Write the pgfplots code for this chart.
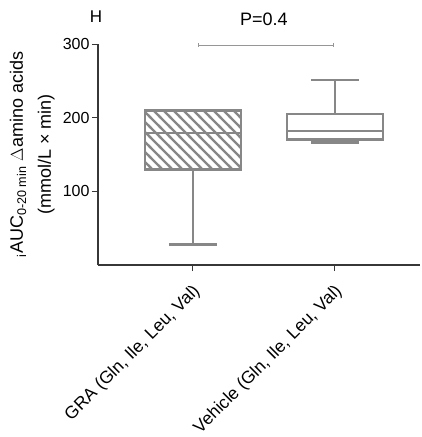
\documentclass[border=0pt]{standalone}
\usepackage{fontspec}
\setmainfont{Liberation Sans}
\usepackage{pgfplots}
\pgfplotsset{compat=1.18}
\usetikzlibrary{patterns}
\definecolor{boxgray}{RGB}{135,135,135}
\definecolor{axisgray}{RGB}{55,55,55}
\definecolor{brgray}{RGB}{150,150,150}
% thick "\" hatching, like the reference
\pgfdeclarepatternformonly{hatchnw}{\pgfqpoint{-2pt}{-2pt}}{\pgfqpoint{12pt}{12pt}}{\pgfqpoint{10pt}{10pt}}{%
  \pgfsetlinewidth{2.4pt}
  \pgfpathmoveto{\pgfqpoint{-2pt}{12pt}}
  \pgfpathlineto{\pgfqpoint{12pt}{-2pt}}
  \pgfusepath{stroke}}
\pgfplotsset{bx/.style={boxgray, line width=2.6pt, mark=none}}
\begin{document}
\begin{tikzpicture}[font=\fontsize{18}{21}\selectfont]
\path[use as bounding box] (-98pt,-172pt) rectangle (323pt,265pt);
\begin{axis}[
    scale only axis,
    width=322pt, height=221pt,
    xmin=0.331, xmax=2.6,
    ymin=0, ymax=300,
    clip=false,
    axis x line*=bottom,
    axis y line*=left,
    axis line style={axisgray, line width=1.2pt},
    xtick={1,2},
    xticklabels={{GRA (Gln, Ile, Leu, Val)},{Vehicle (Gln, Ile, Leu, Val)}},
    ytick={100,200,300},
    tick align=outside,
    major tick length=6pt,
    tick style={axisgray, line width=1pt},
    x tick label style={rotate=45, anchor=north east, xshift=-6pt, yshift=-4pt,
        font=\fontsize{17.5}{21}\selectfont},
    y tick label style={font=\fontsize{16}{19}\selectfont, xshift=1pt},
    /pgf/number format/assume math mode=true,
    ylabel={\textsubscript{i}AUC\textsubscript{0-20 min} \(\Delta\)amino acids\\[7pt](mmol/L × min)},
    ylabel style={at={(axis description cs:-0.204,0.5)}, anchor=center, align=center},
]
% GRA: min 28, q1 130, median 179, q3 210 (max = q3)
\addplot[bx] coordinates {(1,28) (1,130)};
\addplot[bx] coordinates {(0.831,28) (1.169,28)};
\addplot[bx, pattern=hatchnw, pattern color=boxgray]
    coordinates {(0.662,130) (1.338,130) (1.338,210) (0.662,210)} -- cycle;
\addplot[bx] coordinates {(0.662,179) (1.338,179)};
% Vehicle: min 166, q1 170, median 182, q3 205, max 251
\addplot[bx] coordinates {(2,166) (2,170)};
\addplot[bx] coordinates {(1.831,166) (2.169,166)};
\addplot[bx] coordinates {(2,205) (2,251)};
\addplot[bx] coordinates {(1.831,251) (2.169,251)};
\addplot[bx, fill=white]
    coordinates {(1.662,170) (2.338,170) (2.338,205) (1.662,205)} -- cycle;
\addplot[bx] coordinates {(1.662,182) (2.338,182)};
% significance bar
\addplot[brgray, line width=0.8pt, mark=none] coordinates {(1.042,298.5) (1.993,298.5)};
\addplot[brgray, line width=0.8pt, mark=none] coordinates {(1.042,296) (1.042,301)};
\addplot[brgray, line width=0.8pt, mark=none] coordinates {(1.993,296) (1.993,301)};
\node at (axis cs:1.5,333) {P=0.4};
\node[font=\fontsize{17}{20}\selectfont] at (rel axis cs:0,1) [yshift=27pt, xshift=-2pt] {H};
\end{axis}
\end{tikzpicture}
\end{document}
